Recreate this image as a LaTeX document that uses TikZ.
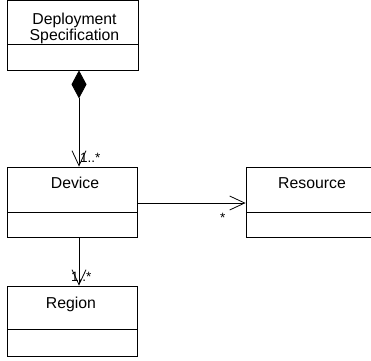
\documentclass[tikz,border=0pt]{standalone}
\usepackage{fontspec}
\setmainfont{Liberation Sans}
\usetikzlibrary{arrows.meta}
\begin{document}
\begin{tikzpicture}[x=1pt,y=-1pt,
  box/.style={draw, line width=0.8pt, minimum width=130pt, minimum height=70pt, inner sep=0pt},
  title/.style={inner sep=0pt, font=\fontsize{15.8}{16}\selectfont, align=center},
  mult/.style={inner sep=0pt, font=\fontsize{13.5}{14}\selectfont, anchor=base west},
  conn/.style={line width=0.8pt},
  open/.style={-{Straight Barb[length=15pt,width=14pt]}},
  comp/.style={{Diamond[length=28pt,width=15pt]}-{Straight Barb[length=15pt,width=14pt]}}]
\useasboundingbox (0,0) rectangle (371,360);
\clip (0,0) rectangle (371,360);
% boxes
\node[box, minimum width=131pt, minimum height=69.5pt] (ds) at (72.5,35.25) {};
\node[box] (dev) at (72,202) {};
\node[box] (res) at (311,202) {};
\node[box] (reg) at (72,321) {};
% dividers
\draw[conn] (7,44) -- (138,44);
\draw[conn] (7,212) -- (137,212);
\draw[conn] (246,212) -- (376,212);
\draw[conn] (7,329) -- (137,329);
% titles
\node[title, anchor=north] (dst) at (74.5,12.5) {Deployment\\Specification};
\node[title, anchor=base] (devt) at (75,188) {Device};
\node[title, anchor=base] (rest) at (312,188) {Resource};
\node[title, anchor=base] (regt) at (71,308) {Region};
% connectors
\draw[conn, comp] ([xshift=6.5pt]ds.south) -- ([xshift=7pt]dev.north);
\draw[conn, open] ([yshift=-1pt]dev.east) -- ([yshift=-1pt]res.west);
\draw[conn, open] ([xshift=7pt]dev.south) -- ([xshift=7pt]reg.north);
% multiplicities
\node[mult] (m1) at (80,162) {1..*};
\node[mult] (m2) at (220,222) {*};
\node[mult] (m3) at (71,281) {1..*};
\end{tikzpicture}
\end{document}
